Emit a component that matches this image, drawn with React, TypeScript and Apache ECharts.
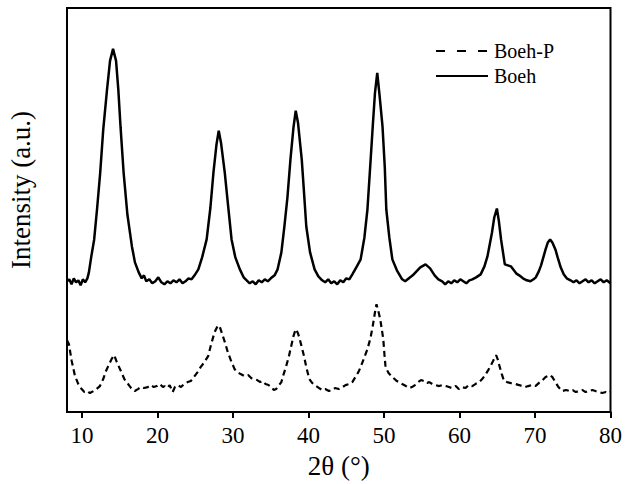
import React, { useEffect, useRef } from "react";
import * as echarts from "echarts";

const seriesNames = ["Boeh-P", "Boeh"];
const xTicks = [10, 20, 30, 40, 50, 60, 70, 80];

// [2θ (deg), intensity (a.u.)]
const boeh: [number, number][] = [
  [8.0, 131], [8.3, 133], [8.6, 128], [8.9, 134], [9.2, 130], [9.5, 132], [9.8, 127], [10.1, 133], [10.4, 130],
  [10.7, 134], [10.9, 140], [11.2, 155], [11.6, 173], [12.0, 205], [12.4, 240], [12.8, 283], [13.3, 323],
  [13.7, 352], [14.1, 364], [14.5, 352], [14.8, 323], [15.1, 285], [15.5, 240], [16.0, 198], [16.6, 166],
  [17.0, 150], [17.5, 140], [17.9, 134], [18.2, 137], [18.5, 131], [18.9, 133], [19.3, 129], [19.7, 131],
  [20.1, 135], [20.5, 130], [20.9, 128], [21.3, 131], [21.7, 129], [22.1, 132], [22.5, 130], [22.9, 133],
  [23.3, 129], [23.7, 131], [24.1, 134], [24.5, 133], [24.9, 137], [25.4, 143], [25.9, 155], [26.5, 173],
  [27.0, 205], [27.4, 240], [27.8, 268], [28.1, 282], [28.4, 270], [28.9, 240], [29.3, 210], [29.8, 173],
  [30.3, 155], [30.9, 143], [31.4, 135], [31.8, 132], [32.2, 129], [32.6, 131], [33.0, 128], [33.4, 132],
  [33.8, 130], [34.2, 133], [34.6, 131], [35.0, 134], [35.5, 137], [35.9, 143], [36.4, 160], [36.8, 186],
  [37.2, 215], [37.6, 253], [38.0, 285], [38.3, 302], [38.6, 290], [39.1, 253], [39.4, 220], [39.7, 186],
  [40.2, 160], [40.8, 143], [41.3, 136], [41.8, 132], [42.2, 130], [42.6, 133], [43.0, 129], [43.4, 131],
  [43.8, 128], [44.2, 132], [44.6, 130], [45.0, 134], [45.4, 133], [45.8, 138], [46.4, 146], [46.9, 153],
  [47.4, 175], [47.8, 203], [48.2, 250], [48.5, 286], [48.8, 320], [49.1, 340], [49.4, 318], [49.8, 286],
  [50.1, 245], [50.3, 203], [50.7, 175], [51.1, 153], [51.7, 142], [52.4, 133], [52.8, 131], [53.3, 134],
  [53.8, 137], [54.3, 141], [54.8, 145], [55.5, 148], [56.1, 144], [56.7, 137], [57.2, 133], [57.7, 131],
  [58.1, 128], [58.5, 131], [58.9, 129], [59.3, 132], [59.7, 130], [60.1, 133], [60.5, 131], [60.9, 129],
  [61.3, 132], [61.7, 133], [62.2, 135], [62.8, 138], [63.3, 146], [63.7, 156], [64.0, 168], [64.3, 180],
  [64.6, 195], [64.95, 204], [65.2, 192], [65.5, 173], [65.8, 158], [66.0, 148], [66.4, 147], [66.8, 146],
  [67.2, 142], [67.5, 139], [67.9, 137], [68.4, 134], [68.9, 132], [69.4, 131], [69.8, 133], [70.1, 135],
  [70.5, 141], [70.8, 147], [71.1, 155], [71.4, 163], [71.7, 170], [72.0, 173], [72.3, 170], [72.7, 163],
  [73.0, 155], [73.4, 145], [73.8, 138], [74.2, 134], [74.7, 132], [75.1, 130], [75.5, 132], [75.9, 129],
  [76.3, 131], [76.7, 133], [77.1, 130], [77.5, 132], [77.9, 129], [78.3, 131], [78.7, 133], [79.1, 130],
  [79.5, 132], [80.0, 129],
];

const boehP: [number, number][] = [
  [8.0, 72], [8.26, 68], [8.6, 52], [9.06, 36], [9.5, 28], [9.94, 23], [10.3, 20], [10.7, 21], [11.04, 19],
  [11.5, 21], [11.9, 23], [12.36, 26], [12.8, 33], [13.1, 40], [13.46, 46], [13.9, 53], [14.25, 57],
  [14.6, 50], [14.9, 45], [15.2, 40], [15.6, 33], [16.1, 28], [16.5, 24], [16.98, 21], [17.4, 23],
  [17.8, 25], [18.2, 24], [18.7, 25], [19.1, 27], [19.5, 25], [19.9, 26], [20.3, 28], [20.7, 25],
  [20.9, 26], [21.3, 24], [21.6, 27], [22.0, 20], [22.3, 25], [22.7, 27], [23.1, 25], [23.5, 28],
  [24.0, 30], [24.4, 31], [24.8, 35], [25.3, 40], [25.7, 45], [26.2, 50], [26.7, 56], [27.1, 68],
  [27.55, 80], [28.0, 87], [28.3, 84], [28.65, 76], [29.0, 68], [29.3, 60], [29.7, 52], [30.2, 43],
  [30.6, 40], [31.0, 38], [31.5, 36], [32.0, 37], [32.4, 34], [32.8, 33], [33.2, 32], [33.6, 30],
  [33.9, 31], [34.3, 28], [34.7, 27], [35.1, 25], [35.4, 22], [35.7, 23], [36.0, 26], [36.4, 30],
  [36.7, 38], [37.0, 45], [37.4, 56], [37.7, 66], [38.0, 76], [38.3, 83], [38.6, 79], [38.9, 71],
  [39.2, 62], [39.4, 56], [39.7, 45], [40.1, 33], [40.5, 29], [41.0, 26], [41.4, 24], [41.8, 22],
  [42.2, 23], [42.7, 21], [43.1, 22], [43.5, 24], [44.0, 23], [44.5, 25], [44.9, 27], [45.4, 28],
  [45.8, 30], [46.2, 35], [46.6, 40], [46.9, 45], [47.3, 53], [47.8, 63], [48.2, 74], [48.5, 86],
  [48.8, 100], [49.0, 108], [49.25, 101], [49.5, 93], [49.7, 83], [49.9, 73], [50.05, 58], [50.2, 45],
  [50.6, 39], [51.1, 35], [51.7, 31], [52.4, 28], [52.9, 26], [53.3, 24], [53.7, 25], [54.1, 27],
  [54.5, 30], [54.9, 32], [55.3, 31], [55.7, 29], [56.0, 30], [56.4, 28], [56.8, 27], [57.3, 26],
  [57.7, 27], [58.2, 26], [58.6, 25], [59.0, 24], [59.5, 26], [59.9, 23], [60.3, 25], [60.8, 24],
  [61.2, 27], [61.7, 26], [62.1, 28], [62.6, 30], [63.0, 33], [63.4, 37], [63.8, 42], [64.1, 46],
  [64.5, 52], [64.85, 57], [65.1, 52], [65.3, 46], [65.6, 38], [65.9, 31], [66.3, 30], [66.8, 29],
  [67.4, 28], [67.9, 27], [68.3, 26], [68.7, 25], [69.1, 26], [69.6, 27], [70.05, 26], [70.5, 29],
  [71.0, 32], [71.4, 35], [72.0, 37], [72.3, 35], [72.7, 30], [73.1, 25], [73.6, 21], [74.1, 22],
  [74.6, 21], [75.0, 22], [75.4, 20], [75.8, 21], [76.3, 22], [76.7, 20], [77.1, 21], [77.6, 22],
  [78.0, 21], [78.5, 20], [78.9, 19], [79.4, 20], [79.8, 19], [80.0, 20],
];

const FONT = "Liberation Serif";

export default function App() {
  const ref = useRef<HTMLDivElement>(null);
  useEffect(() => {
    if (!ref.current) return;
    const chart = echarts.init(ref.current, undefined, { renderer: "svg" });
    chart.setOption({
      animation: false,
      backgroundColor: "#fff",
      textStyle: { fontFamily: FONT },
      grid: {
        left: 67,
        right: 13,
        top: 8,
        bottom: 71,
        show: true,
        borderColor: "#000",
        borderWidth: 2,
        backgroundColor: "transparent",
      },
      xAxis: {
        type: "value",
        min: 8,
        max: 80,
        name: "2θ (°)",
        nameLocation: "middle",
        nameGap: 40,
        nameTextStyle: { fontFamily: FONT, fontSize: 27, color: "#000" },
        axisLine: { show: true, lineStyle: { color: "#000", width: 2 } },
        axisTick: {
          show: true,
          inside: false,
          length: 6,
          lineStyle: { color: "#000", width: 2 },
          customValues: xTicks,
        },
        axisLabel: {
          fontFamily: FONT,
          fontSize: 23,
          color: "#000",
          margin: 12,
          customValues: xTicks,
        },
        splitLine: { show: false },
      },
      yAxis: {
        type: "value",
        min: 0,
        max: 405,
        axisLine: { show: true, lineStyle: { color: "#000", width: 2 } },
        axisTick: { show: false },
        axisLabel: { show: false },
        splitLine: { show: false },
      },
      graphic: [
        {
          type: "text",
          x: 21,
          y: 190,
          rotation: Math.PI / 2,
          style: {
            text: "Intensity (a.u.)",
            fontFamily: FONT,
            fontSize: 27,
            fill: "#000",
            align: "center",
            verticalAlign: "middle",
          },
        },
        {
          type: "line",
          shape: { x1: 436, y1: 51, x2: 488, y2: 51 },
          style: { stroke: "#000", lineWidth: 2, lineDash: [9, 12] },
        },
        {
          type: "text",
          x: 494,
          y: 51,
          style: {
            text: seriesNames[0],
            fontFamily: FONT,
            fontSize: 20,
            fill: "#000",
            verticalAlign: "middle",
          },
        },
        {
          type: "line",
          shape: { x1: 436, y1: 76, x2: 488, y2: 76 },
          style: { stroke: "#000", lineWidth: 2 },
        },
        {
          type: "text",
          x: 494,
          y: 76,
          style: {
            text: seriesNames[1],
            fontFamily: FONT,
            fontSize: 20,
            fill: "#000",
            verticalAlign: "middle",
          },
        },
      ],
      series: [
        {
          name: seriesNames[0],
          type: "line",
          data: boehP,
          symbol: "none",
          smooth: false,
          lineStyle: { color: "#000", width: 2.2, type: [6, 4] },
          itemStyle: { color: "#000" },
        },
        {
          name: seriesNames[1],
          type: "line",
          data: boeh,
          symbol: "none",
          smooth: false,
          lineStyle: { color: "#000", width: 2.5, type: "solid" },
          itemStyle: { color: "#000" },
        },
      ],
    });
    return () => chart.dispose();
  }, []);
  return <div ref={ref} style={{ width: 625, height: 484, position: "absolute", left: 0, top: 0 }} />;
}
